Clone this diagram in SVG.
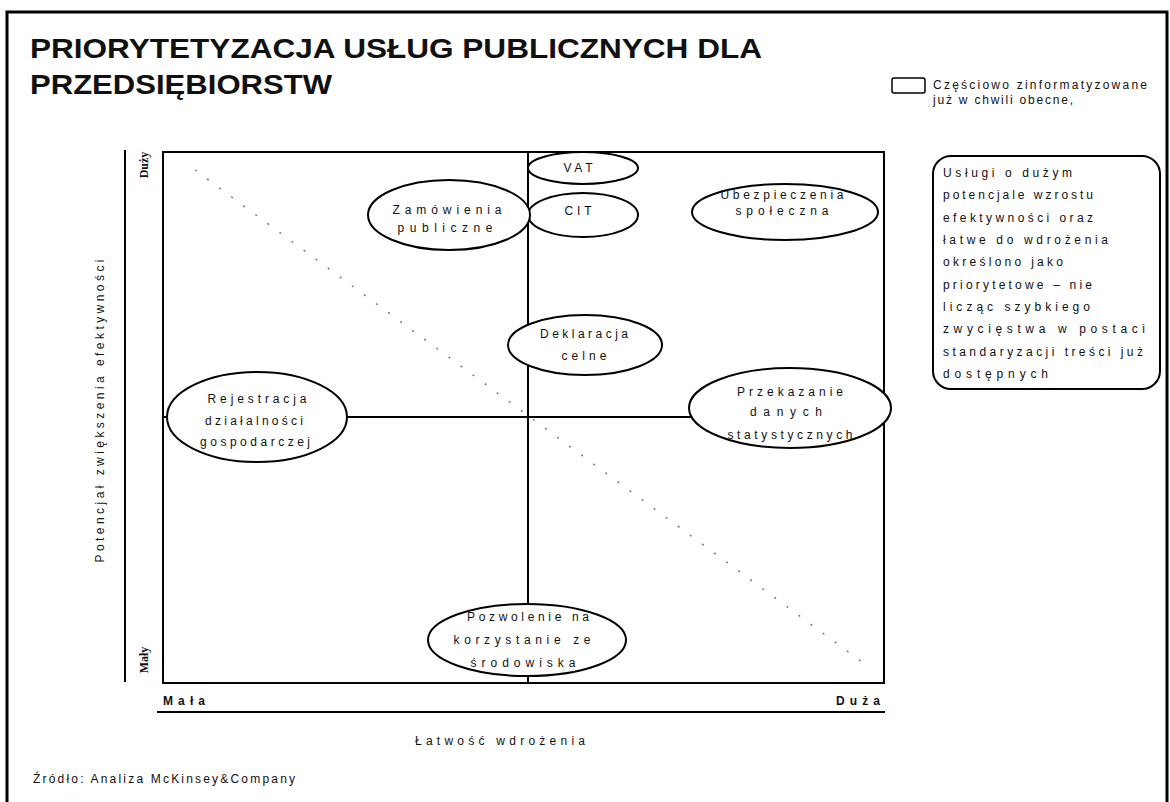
<svg xmlns="http://www.w3.org/2000/svg" width="1170" height="802" viewBox="0 0 1170 802">
<style>
.t{font-family:"Liberation Sans",Arial,sans-serif;font-size:12px;fill:#111}
.c{text-anchor:middle}
.e{fill:#fff;stroke:#000;stroke-width:2}
.ln{stroke:#000;stroke-width:2;fill:none}
.ax{font-family:"Liberation Serif","Times New Roman",serif;font-size:12px;font-weight:bold;fill:#111}
</style>
<rect x="0" y="0" width="1170" height="802" fill="#fff"/>
<rect x="7" y="12" width="1160" height="800" fill="none" stroke="#000" stroke-width="3"/>
<g id="title">
<text x="30" y="58" font-family="Liberation Sans,Arial,sans-serif" font-size="28" font-weight="bold" fill="#111" textLength="732" lengthAdjust="spacingAndGlyphs">PRIORYTETYZACJA USŁUG PUBLICZNYCH DLA</text>
<text x="30" y="94" font-family="Liberation Sans,Arial,sans-serif" font-size="28" font-weight="bold" fill="#111" textLength="302" lengthAdjust="spacingAndGlyphs">PRZEDSIĘBIORSTW</text>
</g>
<g id="legend">
<rect x="892" y="78" width="33" height="15" rx="2" fill="#fff" stroke="#000" stroke-width="1.5"/>
<text class="t" x="933" y="89" font-size="11" textLength="214" lengthAdjust="spacing">Częściowo zinformatyzowane</text>
<text class="t" x="933" y="104" font-size="11" textLength="140" lengthAdjust="spacing">już w chwili obecne,</text>
</g>
<g id="axes">
<line class="ln" x1="125" y1="150" x2="125" y2="682" stroke-width="1.5"/>
<line class="ln" x1="157" y1="712" x2="885" y2="712" stroke-width="1.5"/>
<text class="t c" transform="translate(104,411) rotate(-90)" textLength="303" lengthAdjust="spacing">Potencjał zwiększenia efektywności</text>
<text class="ax c" transform="translate(148,165) rotate(-90)">Duży</text>
<text class="ax c" transform="translate(148,660) rotate(-90)">Mały</text>
<text class="t" x="163" y="705" font-weight="bold" font-size="13" textLength="42" lengthAdjust="spacing">Mała</text>
<text class="t" x="836" y="705" font-weight="bold" font-size="13" textLength="44" lengthAdjust="spacing">Duża</text>
<text class="t" x="415" y="745" textLength="170" lengthAdjust="spacing">Łatwość wdrożenia</text>
</g>
<g id="connectors">
<rect x="163" y="152" width="721" height="531" fill="none" stroke="#000" stroke-width="2"/>
<line class="ln" x1="528" y1="152" x2="528" y2="683"/>
<line class="ln" x1="163" y1="417" x2="884" y2="417"/>
<line x1="195" y1="170" x2="862" y2="662" stroke="#777" stroke-width="1.5" stroke-dasharray="2 13"/>
</g>
<g id="node-vat">
<ellipse class="e" cx="583" cy="168" rx="55" ry="16"/>
<text class="t c" x="578" y="172" textLength="29" lengthAdjust="spacing">VAT</text>
</g>
<g id="node-cit">
<ellipse class="e" cx="583" cy="215" rx="55" ry="22"/>
<text class="t c" x="578" y="215" textLength="27" lengthAdjust="spacing">CIT</text>
</g>
<g id="node-zamowienia">
<ellipse class="e" cx="449" cy="215" rx="81" ry="35"/>
<text class="t c" x="447" y="214" textLength="109" lengthAdjust="spacing">Zamówienia</text>
<text class="t c" x="445" y="232" textLength="95" lengthAdjust="spacing">publiczne</text>
</g>
<g id="node-ubezpieczenia">
<ellipse class="e" cx="785" cy="212" rx="93" ry="28"/>
<text class="t c" x="782" y="199" textLength="123" lengthAdjust="spacing">Ubezpieczenia</text>
<text class="t c" x="782" y="215" textLength="93" lengthAdjust="spacing">społeczna</text>
</g>
<g id="node-deklaracja">
<ellipse class="e" cx="585" cy="345" rx="77" ry="30"/>
<text class="t c" x="584" y="338" textLength="88" lengthAdjust="spacing">Deklaracja</text>
<text class="t c" x="584" y="360" textLength="45" lengthAdjust="spacing">celne</text>
</g>
<g id="node-rejestracja">
<ellipse class="e" cx="257" cy="417" rx="90" ry="45"/>
<text class="t c" x="257" y="403" textLength="99" lengthAdjust="spacing">Rejestracja</text>
<text class="t c" x="254" y="425" textLength="98" lengthAdjust="spacing">działalności</text>
<text class="t c" x="255" y="446" textLength="110" lengthAdjust="spacing">gospodarczej</text>
</g>
<g id="node-przekazanie">
<ellipse class="e" cx="790" cy="408" rx="101" ry="40"/>
<text class="t c" x="790" y="396" textLength="106" lengthAdjust="spacing">Przekazanie</text>
<text class="t c" x="786" y="416" textLength="72" lengthAdjust="spacing">danych</text>
<text class="t c" x="790" y="439" textLength="125" lengthAdjust="spacing">statystycznych</text>
</g>
<g id="node-pozwolenie">
<ellipse class="e" cx="527" cy="640" rx="99" ry="36"/>
<text class="t c" x="528" y="621" textLength="122" lengthAdjust="spacing">Pozwolenie na</text>
<text class="t c" x="522" y="644" textLength="137" lengthAdjust="spacing">korzystanie ze</text>
<text class="t c" x="523" y="667" textLength="105" lengthAdjust="spacing">środowiska</text>
</g>
<g id="callout">
<rect x="933" y="156" width="227" height="233" rx="18" fill="#fff" stroke="#000" stroke-width="2"/>
<text class="t" x="943" y="177" textLength="129" lengthAdjust="spacing">Usługi o dużym</text>
<text class="t" x="943" y="199" textLength="150" lengthAdjust="spacing">potencjale wzrostu</text>
<text class="t" x="943" y="222" textLength="150" lengthAdjust="spacing">efektywności oraz</text>
<text class="t" x="943" y="244" textLength="165" lengthAdjust="spacing">łatwe do wdrożenia</text>
<text class="t" x="943" y="266" textLength="120" lengthAdjust="spacing">określono jako</text>
<text class="t" x="943" y="289" textLength="149" lengthAdjust="spacing">priorytetowe – nie</text>
<text class="t" x="943" y="311" textLength="147" lengthAdjust="spacing">licząc szybkiego</text>
<text class="t" x="943" y="333" textLength="202" lengthAdjust="spacing">zwycięstwa w postaci</text>
<text class="t" x="943" y="356" textLength="200" lengthAdjust="spacing">standaryzacji treści już</text>
<text class="t" x="943" y="378" textLength="105" lengthAdjust="spacing">dostępnych</text>
</g>
<g id="source">
<text class="t" x="33" y="783" textLength="262" lengthAdjust="spacing">Źródło: Analiza McKinsey&amp;Company</text>
</g>
</svg>
